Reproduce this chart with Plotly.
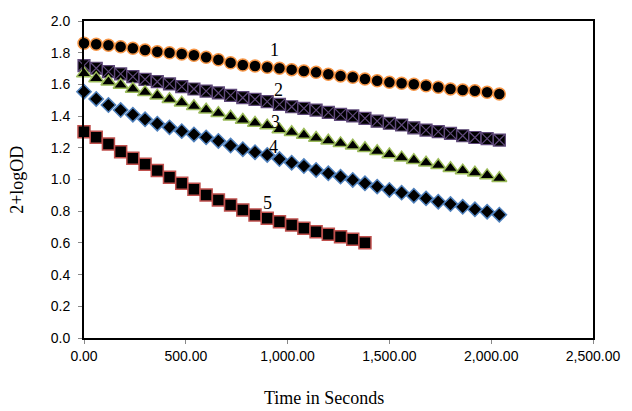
import plotly.graph_objects as go

# Time (s) sampled every 60 s
time_long = [0, 60, 120, 180, 240, 300, 360, 420, 480, 540, 600, 660, 720, 780, 840, 900, 960,
             1020, 1080, 1140, 1200, 1260, 1320, 1380, 1440, 1500, 1560, 1620, 1680, 1740, 1800,
             1860, 1920, 1980, 2040]
time_short = time_long[:24]

series1 = [1.860, 1.853, 1.847, 1.838, 1.828, 1.817, 1.806, 1.800, 1.792, 1.784, 1.771, 1.755,
           1.737, 1.722, 1.716, 1.708, 1.702, 1.693, 1.685, 1.676, 1.664, 1.653, 1.645, 1.634,
           1.623, 1.613, 1.607, 1.601, 1.592, 1.582, 1.571, 1.565, 1.560, 1.550, 1.539]
series2 = [1.718, 1.702, 1.681, 1.666, 1.649, 1.632, 1.617, 1.603, 1.586, 1.571, 1.558, 1.546,
           1.531, 1.516, 1.506, 1.491, 1.474, 1.459, 1.449, 1.438, 1.424, 1.411, 1.401, 1.386,
           1.368, 1.355, 1.344, 1.326, 1.312, 1.302, 1.291, 1.276, 1.265, 1.258, 1.249]
series3 = [1.668, 1.638, 1.617, 1.596, 1.571, 1.550, 1.529, 1.506, 1.485, 1.462, 1.440, 1.418,
           1.396, 1.375, 1.357, 1.340, 1.315, 1.298, 1.281, 1.262, 1.245, 1.228, 1.213, 1.197,
           1.178, 1.158, 1.138, 1.122, 1.106, 1.090, 1.071, 1.056, 1.043, 1.026, 1.008]
series4 = [1.554, 1.508, 1.470, 1.438, 1.409, 1.380, 1.352, 1.329, 1.305, 1.284, 1.266, 1.243,
           1.214, 1.191, 1.172, 1.155, 1.129, 1.106, 1.085, 1.060, 1.039, 1.018, 0.997, 0.976,
           0.955, 0.934, 0.917, 0.898, 0.881, 0.860, 0.845, 0.828, 0.812, 0.797, 0.778]
series5 = [1.302, 1.266, 1.224, 1.175, 1.134, 1.096, 1.056, 1.014, 0.976, 0.938, 0.902, 0.871,
           0.839, 0.808, 0.776, 0.755, 0.734, 0.713, 0.692, 0.671, 0.654, 0.639, 0.623, 0.601]

curve_labels = ["1", "2", "3", "4", "5"]
label_x = [938, 955, 939, 931, 900]
label_y = [1.817, 1.565, 1.365, 1.207, 0.850]

x_ticks = [0, 500, 1000, 1500, 2000, 2500]
y_ticks = [0.0, 0.2, 0.4, 0.6, 0.8, 1.0, 1.2, 1.4, 1.6, 1.8, 2.0]

fig = go.Figure()

styles = [
    (time_long, series1, "circle", 12, "#F79646", 1.5),
    (time_long, series2, "square-x", 12, "#5F497A", 1.2),
    (time_long, series3, "triangle-up", 13, "#9BBB59", 1.5),
    (time_long, series4, "diamond", 11, "#4F81BD", 1.5),
    (time_short, series5, "square", 12, "#C0504D", 1.5),
]
for xs, ys, sym, sz, col, lw in styles:
    fig.add_trace(go.Scatter(
        x=xs, y=ys, mode="markers", cliponaxis=False,
        marker=dict(symbol=sym, size=sz, color="black", line=dict(color=col, width=lw)),
        showlegend=False,
    ))

serif = "Liberation Serif"
annotations = []
for t, lx, ly in zip(curve_labels, label_x, label_y):
    annotations.append(dict(x=lx, y=ly, xref="x", yref="y", text=t, showarrow=False,
                            font=dict(family=serif, size=18, color="black")))
annotations.append(dict(x=0.472, y=-0.19, xref="paper", yref="paper", text="Time in Seconds",
                        showarrow=False, xanchor="center", yanchor="middle",
                        font=dict(family=serif, size=18, color="black")))
annotations.append(dict(x=-0.133, y=0.5, xref="paper", yref="paper", text="2+logOD",
                        showarrow=False, textangle=-90, xanchor="center", yanchor="middle",
                        font=dict(family=serif, size=18, color="black")))

tickfont = dict(family="Liberation Sans", size=14, color="black")
fig.update_layout(
    width=632, height=411,
    margin=dict(l=84, r=31, t=21, b=73),
    paper_bgcolor="white", plot_bgcolor="white",
    annotations=annotations,
    xaxis=dict(range=[0, 2500], tickvals=x_ticks, tickformat=",.2f",
               showgrid=False, zeroline=False, showline=True, linecolor="black", linewidth=2,
               mirror=True, ticks="outside", ticklen=4, tickcolor="#888888",
               tickfont=tickfont),
    yaxis=dict(range=[0, 2.0], tickvals=y_ticks, tickformat=".1f",
               showgrid=False, zeroline=False, showline=True, linecolor="black", linewidth=2,
               mirror=True, ticks="outside", ticklen=4, tickcolor="#888888",
               ticklabelstandoff=5, tickfont=tickfont),
)

fig.write_html("out.html")
